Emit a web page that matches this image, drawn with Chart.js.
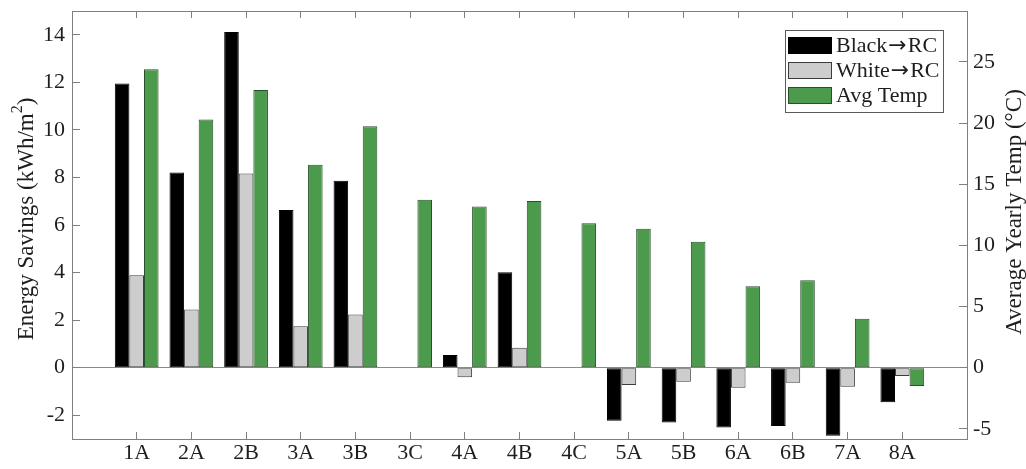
<!DOCTYPE html>
<html>
<head>
<meta charset="utf-8">
<script src="https://cdn.jsdelivr.net/npm/chart.js@4.4.1/dist/chart.umd.min.js"></script>
<style>
  html, body { margin: 0; padding: 0; background: #ffffff; }
  #wrap { position: relative; width: 1026px; height: 469px; }
</style>
</head>
<body>
<div id="wrap"><canvas id="c" width="1026" height="469"></canvas></div>
<script>
// ---- data ----
const categories = ['1A','2A','2B','3A','3B','3C','4A','4B','4C','5A','5B','6A','6B','7A','8A'];
const blackToRC = [11.95, 8.21, 14.12, 6.63, 7.86, null, 0.53, 4.01, null, -2.23, -2.31, -2.52, -2.45, -2.86, -1.45];
const whiteToRC = [3.89, 2.45, 8.17, 1.74, 2.24, null, -0.40, 0.84, null, -0.73, -0.59, -0.84, -0.63, -0.80, -0.35];
const avgTemp   = [24.4, 20.3, 22.7, 16.6, 19.75, 13.74, 13.17, 13.63, 11.8, 11.37, 10.29, 6.66, 7.15, 4.0, -1.5];
const seriesNames = ['Black\u2192RC', 'White\u2192RC', 'Avg Temp'];
const leftTicks  = [-2, 0, 2, 4, 6, 8, 10, 12, 14];
const rightTicks = [-5, 0, 5, 10, 15, 20, 25];
const leftTitle  = ['Energy Savings (kWh/m', '2', ')'];
const rightTitle = 'Average Yearly Temp (\u00B0C)';

const FONT = "'Liberation Serif', 'Times New Roman', serif";
const AXIS_COLOR = '#7f7f7f';
const TEXT_COLOR = '#1e1e1e';

const toPoints = arr => arr.map((v, i) => ({ x: i, y: v }));

function drawMixed(ctx, parts, x, y) {
  let cx = x;
  parts.forEach(p => {
    ctx.font = p.font;
    ctx.fillText(p.text, cx + (p.dx || 0), y + (p.dy || 0));
    cx += ctx.measureText(p.text).width + (p.extra || 0);
  });
  return cx - x;
}
function measureMixed(ctx, parts) {
  let w = 0;
  parts.forEach(p => { ctx.font = p.font; w += ctx.measureText(p.text).width + (p.extra || 0); });
  return w;
}

const titlesAndLegend = {
  id: 'titlesAndLegend',
  afterDraw(chart) {
    const ctx = chart.ctx;
    ctx.save();
    ctx.fillStyle = TEXT_COLOR;
    ctx.textBaseline = 'middle';
    ctx.textAlign = 'left';
    const FT = '23px ' + FONT;
    const FTS = '16px ' + FONT;
    const F = '22px ' + FONT;
    // left title with superscript
    const lparts = [
      { text: leftTitle[0], font: FT },
      { text: leftTitle[1], font: FTS, dy: -9 },
      { text: leftTitle[2], font: FT }
    ];
    ctx.save();
    ctx.translate(27, 219);
    ctx.rotate(-Math.PI / 2);
    const lw = measureMixed(ctx, lparts);
    drawMixed(ctx, lparts, -lw / 2, 0);
    ctx.restore();
    // right title (reads bottom-to-top)
    ctx.save();
    ctx.translate(1015, 212);
    ctx.rotate(-Math.PI / 2);
    ctx.font = FT;
    ctx.textAlign = 'center';
    ctx.fillText(rightTitle, 0, 0);
    ctx.restore();
    ctx.textAlign = 'left';

    // top border of the axes box
    const ca = chart.chartArea;
    ctx.strokeStyle = AXIS_COLOR;
    ctx.lineWidth = 1;
    ctx.beginPath();
    ctx.moveTo(Math.round(ca.left), Math.round(ca.top) + 0.5);
    ctx.lineTo(Math.round(ca.right) + 1, Math.round(ca.top) + 0.5);
    ctx.stroke();

    // legend
    const bx = 785, by = 30, bw = 158, bh = 82;
    ctx.fillStyle = '#ffffff';
    ctx.fillRect(bx, by, bw, bh);
    ctx.strokeStyle = '#5a5a5a';
    ctx.strokeRect(bx + 0.5, by + 0.5, bw, bh);
    chart.data.datasets.forEach((ds, i) => {
      const ry = 37 + i * 25;
      ctx.fillStyle = ds.backgroundColor;
      ctx.fillRect(788, ry, 44, 17);
      ctx.strokeStyle = ds.borderColor;
      ctx.strokeRect(788.5, ry + 0.5, 43, 16);
      ctx.fillStyle = TEXT_COLOR;
      const segs = ds.label.split('\u2192');
      const parts = [];
      segs.forEach((s, k) => {
        if (k > 0) parts.push({ text: '\u2192', font: '22px "DejaVu Sans", sans-serif', dx: 1, extra: 2 });
        parts.push({ text: s, font: F });
      });
      drawMixed(ctx, parts, 836, ry + 9);
    });
    ctx.restore();
  }
};

const xTickBuild = scale => { scale.ticks = categories.map((c, i) => ({ value: i })); };
const zeroPad = s => { s.paddingTop = 0; s.paddingBottom = 0; s.paddingLeft = 0; s.paddingRight = 0; };

new Chart(document.getElementById('c'), {
  type: 'bar',
  data: {
    datasets: [
      { label: seriesNames[0], data: toPoints(blackToRC), yAxisID: 'y', xAxisID: 'x',
        backgroundColor: '#000000', borderColor: '#000000', borderWidth: 1, borderSkipped: false },
      { label: seriesNames[1], data: toPoints(whiteToRC), yAxisID: 'y', xAxisID: 'x',
        backgroundColor: '#cdcdcd', borderColor: '#3c3c3c', borderWidth: 1, borderSkipped: false },
      { label: seriesNames[2], data: toPoints(avgTemp), yAxisID: 'y2', xAxisID: 'x',
        backgroundColor: '#4c9a4c', borderColor: '#2a4f2a', borderWidth: 1, borderSkipped: false }
    ]
  },
  options: {
    responsive: false,
    animation: false,
    devicePixelRatio: 1,
    categoryPercentage: 0.8,
    barPercentage: 1.0,
    layout: { padding: { top: 11, left: 0, right: 0, bottom: 0 } },
    plugins: { legend: { display: false }, tooltip: { enabled: false }, title: { display: false } },
    scales: {
      x: {
        type: 'linear', position: 'bottom', offset: false,
        min: -1.183, max: 15.183,
        afterBuildTicks: xTickBuild,
        afterFit: s => { s.height = 30; zeroPad(s); },
        grid: { offset: false, drawOnChartArea: false, drawTicks: true, tickLength: -7, color: AXIS_COLOR, tickColor: AXIS_COLOR },
        border: { display: true, color: AXIS_COLOR, width: 1 },
        ticks: { padding: 8, color: TEXT_COLOR, font: { family: FONT, size: 22 }, maxRotation: 0, autoSkip: false,
                 callback: v => categories[v] ?? '' }
      },
      x2: {
        type: 'linear', position: 'top', offset: false,
        min: -1.183, max: 15.183,
        afterBuildTicks: xTickBuild,
        afterFit: s => { s.height = 0; zeroPad(s); },
        grid: { offset: false, drawOnChartArea: false, drawTicks: true, tickLength: -7, color: AXIS_COLOR, tickColor: AXIS_COLOR },
        border: { display: false },
        ticks: { display: false }
      },
      y: {
        type: 'linear', position: 'left',
        min: -3, max: 15,
        afterBuildTicks: s => { s.ticks = leftTicks.map(v => ({ value: v })); },
        afterFit: s => { s.width = 72; zeroPad(s); },
        grid: {
          drawOnChartArea: true, drawTicks: true, tickLength: -8,
          color: c => (c.tick && c.tick.value === 0) ? '#8a8a8a' : 'rgba(0,0,0,0)',
          tickColor: AXIS_COLOR
        },
        border: { display: true, color: AXIS_COLOR, width: 1 },
        ticks: { padding: 15, color: TEXT_COLOR, font: { family: FONT, size: 22 } }
      },
      y2: {
        type: 'linear', position: 'right',
        min: -35 / 6, max: 175 / 6,
        afterBuildTicks: s => { s.ticks = rightTicks.map(v => ({ value: v })); },
        afterFit: s => { s.width = 59; zeroPad(s); },
        grid: { drawOnChartArea: false, drawTicks: true, tickLength: -8, color: AXIS_COLOR, tickColor: AXIS_COLOR },
        border: { display: true, color: AXIS_COLOR, width: 1 },
        ticks: { padding: 14, color: TEXT_COLOR, font: { family: FONT, size: 22 } }
      }
    }
  },
  plugins: [titlesAndLegend]
});
</script>
</body>
</html>
